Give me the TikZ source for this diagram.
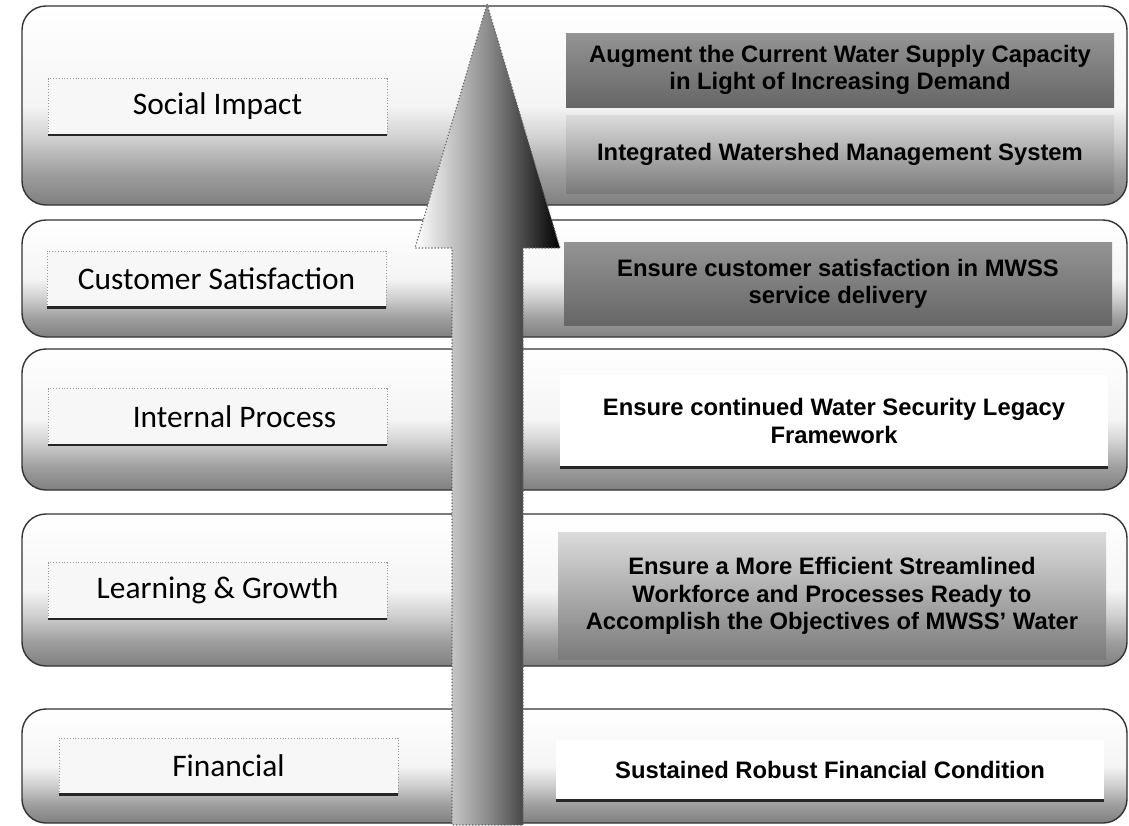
\documentclass[tikz,border=0pt]{standalone}
\usepackage{fontspec}
\setmainfont{Carlito}
\newfontfamily\objfont{Liberation Sans}
\usetikzlibrary{positioning}

\pgfdeclareverticalshading{rowshade}{100bp}{color(0bp)=(black!50); color(25bp)=(black!50);
    color(33bp)=(black!38); color(42bp)=(black!18); color(50bp)=(white!96!black);
    color(75bp)=(white); color(100bp)=(white)}

\begin{document}
\begin{tikzpicture}[x=0.5pt, y=-0.5pt,
    row/.style={rounded corners=12pt, draw=black!80, line width=0.7pt, shading=rowshade},
    persp/.style={fill=white!97!black, draw=black!40, densely dotted,
                  minimum width=169.5pt, minimum height=28pt, inner sep=0pt,
                  font=\fontsize{15.7}{18}\selectfont},
    rule/.style={draw=black!85, line width=1.1pt},
    obj/.style={minimum width=274pt, inner sep=0pt, align=center,
                font=\objfont\bfseries\fontsize{11.9}{13.8}\selectfont},
    darkobj/.style={obj, top color=black!42, bottom color=black!60},
    midobj/.style={obj, top color=black!14, bottom color=black!52},
    lightobj/.style={obj, fill=white},
    arrowbody/.style={left color=white, right color=black, middle color=black!45,
                      draw=black!60, densely dotted, line width=0.6pt}]
    \useasboundingbox (0,0) rectangle (1129,825);

    % rows
    \foreach \ya/\yb in {6/205, 220/337, 349/490, 514/666, 709/823}
        \shadedraw[row] (22,\ya) rectangle (1127,\yb);

    % perspectives
    \node[persp] (si) at (217.5,106.5) {Social Impact};
    \node[persp] (cs) at (216.5,279) {Customer Satisfaction};
    \node[persp] (ip) at (217.5,416.5) {\hspace*{17pt}Internal Process};
    \node[persp] (lg) at (217.5,590.5) {Learning \& Growth};
    \node[persp] (fi) at (228.5,766) {Financial};
    \foreach \n in {si,cs,ip,lg,fi}
        \draw[rule] (\n.south west) -- (\n.south east);

    % objectives
    \node[darkobj, minimum height=37pt] (aug) at (840,70)
        {Augment the Current Water Supply Capacity\\in Light of Increasing Demand};
    \node[midobj, minimum height=39pt] (iwm) at (840,154)
        {Integrated Watershed Management System};
    \node[darkobj, minimum height=41.5pt] (ecs) at (838,284)
        {Ensure customer satisfaction in MWSS\\service delivery};
    \node[lightobj, minimum height=46pt] (ewl) at (834,421)
        {Ensure continued Water Security Legacy\\Framework};
    \node[midobj, minimum height=63.5pt] (emw) at (832,596)
        {Ensure a More Efficient Streamlined\\Workforce and Processes Ready to\\Accomplish the Objectives of MWSS’ Water};
    \node[lightobj, minimum height=30pt] (src) at (830,770)
        {Sustained Robust Financial Condition};
    \foreach \n in {ewl,src}
        \draw[rule] (\n.south west) -- (\n.south east);

    % arrow
    \coordinate (tip) at (487,4);
    \coordinate (rw) at (560,248);
    \coordinate (rs) at (523,248);
    \coordinate (rb) at (523,825);
    \coordinate (lb) at (452,825);
    \coordinate (ls) at (452,248);
    \coordinate (lw) at (415,248);
    \path[arrowbody] (tip) -- (rw) -- (rs) -- (rb) -- (lb) -- (ls) -- (lw) -- cycle;
\end{tikzpicture}
\end{document}
